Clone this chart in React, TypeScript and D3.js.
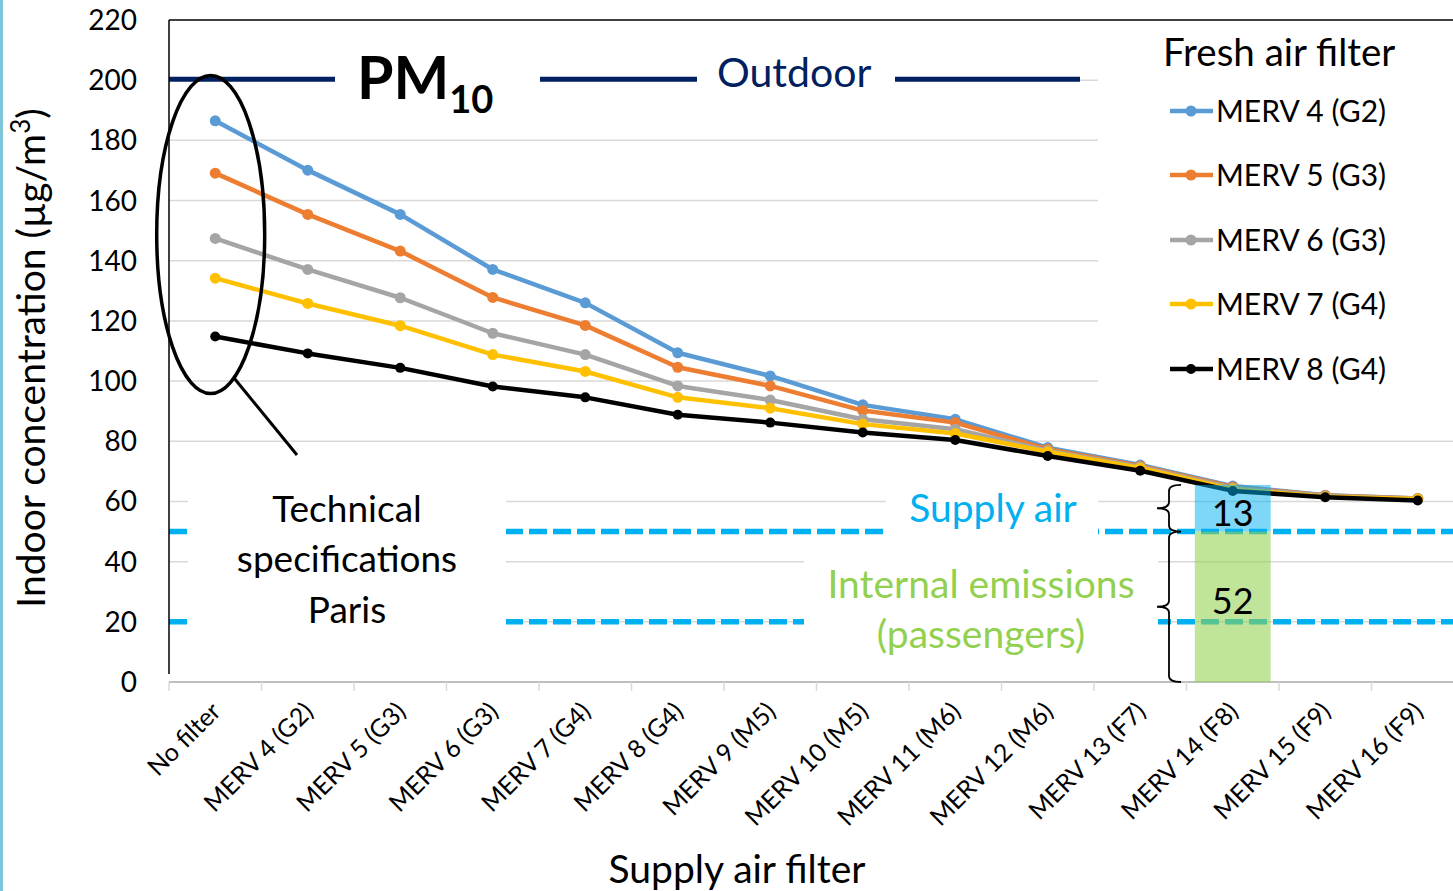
import React from "react";
import * as d3 from "d3";

const categories = [
  "No filter", "MERV 4 (G2)", "MERV 5 (G3)", "MERV 6 (G3)", "MERV 7 (G4)",
  "MERV 8 (G4)", "MERV 9 (M5)", "MERV 10 (M5)", "MERV 11 (M6)", "MERV 12 (M6)",
  "MERV 13 (F7)", "MERV 14 (F8)", "MERV 15 (F9)", "MERV 16 (F9)",
];

const merv4 = [186.5, 170.1, 155.4, 137.1, 126.0, 109.4, 101.7, 92.1, 87.3, 77.9, 72.1, 65.1, 62.1, 61.0];
const merv5 = [169.1, 155.4, 143.2, 127.8, 118.5, 104.6, 98.4, 90.2, 86.2, 77.4, 71.8, 64.8, 62.0, 61.0];
const merv6 = [147.4, 137.1, 127.7, 115.9, 108.8, 98.4, 93.7, 87.3, 84.0, 76.9, 71.5, 64.5, 61.8, 60.9];
const merv7 = [134.2, 125.8, 118.4, 108.8, 103.2, 94.6, 91.0, 85.7, 82.6, 76.5, 71.1, 64.1, 61.6, 60.8];
const merv8 = [114.8, 109.2, 104.4, 98.2, 94.6, 88.8, 86.2, 82.9, 80.4, 75.1, 70.2, 63.5, 61.4, 60.3];

const seriesNames = ["MERV 4 (G2)", "MERV 5 (G3)", "MERV 6 (G3)", "MERV 7 (G4)", "MERV 8 (G4)"];
const seriesColors = ["#5b9bd5", "#ed7d31", "#a5a5a5", "#ffc000", "#000000"];
const seriesValues = [merv4, merv5, merv6, merv7, merv8];

const yTicks = [0, 20, 40, 60, 80, 100, 120, 140, 160, 180, 200, 220];
const outdoorLevel = 200;
const specLevels = [50, 20];
const barCategory = "MERV 14 (F8)";
const barSegments = [
  { from: 0, to: 50, label: "52", color: "#92d050", opacity: 0.58, dy: 7 },
  { from: 50, to: 65.5, label: "13", color: "#00b0f0", opacity: 0.5, dy: 18 },
];

const W = 1453;
const H = 891;
const left = 169;
const top = 20;
const bottom = 682;
const band = 92.5;
const right = left + band * categories.length;

const FONT = "Lato, 'Open Sans', sans-serif";

export default function App() {
  const x = d3.scaleBand<string>().domain(categories).range([left, right]).padding(0);
  const y = d3.scaleLinear().domain([0, 220]).range([bottom, top]);
  const cx = (c: string) => (x(c) as number) + x.bandwidth() / 2;

  const line = d3
    .line<number>()
    .x((_, i) => cx(categories[i]))
    .y((d) => y(d));

  const brace = (xs: number, y0: number, y1: number, w: number) => {
    const ym = (y0 + y1) / 2;
    const r = 6;
    return `M${xs + w},${y0} Q${xs},${y0} ${xs},${y0 + r} L${xs},${ym - r} Q${xs},${ym} ${xs - w},${ym} Q${xs},${ym} ${xs},${ym + r} L${xs},${y1 - r} Q${xs},${y1} ${xs + w},${y1}`;
  };

  const bx = x(barCategory) as number;
  const bw = x.bandwidth() * 0.82;
  const bxl = bx + (x.bandwidth() - bw) / 2;

  const legendYs = [111, 175, 240, 304, 369];

  return (
    <svg
      width={W}
      height={H}
      style={{ position: "absolute", left: 0, top: 0, background: "#fff" }}
      fontFamily={FONT}
    >
      <rect x={0} y={0} width={W} height={H} fill="#fff" />
      <rect x={0} y={0} width={3} height={H} fill="#7ec4da" />

      {/* gridlines */}
      {yTicks.filter((t) => t > 0 && t < 220).map((t) => (
        <line key={t} x1={left} x2={right} y1={y(t)} y2={y(t)} stroke="#d9d9d9" strokeWidth={1.5} />
      ))}

      {/* spec dashed lines */}
      {specLevels.map((s) => (
        <line key={s} x1={left} x2={right} y1={y(s)} y2={y(s)} stroke="#00b0f0" strokeWidth={5.5} strokeDasharray="18 6" />
      ))}

      {/* outdoor */}
      <line x1={left} x2={1080} y1={y(outdoorLevel) - 1} y2={y(outdoorLevel) - 1} stroke="#002060" strokeWidth={5} />

      {/* white text boxes */}
      <rect x={335} y={58} width={205} height={44} fill="#fff" />
      <rect x={697} y={58} width={198} height={44} fill="#fff" />
      <rect x={1098} y={22} width={right - 1098} height={378} fill="#fff" />
      <rect x={188} y={470} width={318} height={185} fill="#fff" />
      <rect x={886} y={488} width={212} height={50} fill="#fff" />
      <rect x={804} y={555} width={354} height={105} fill="#fff" />

      {/* axes */}
      <line x1={left} x2={right} y1={top} y2={top} stroke="#404040" strokeWidth={2} />
      <line x1={left} x2={left} y1={top} y2={bottom - 8} stroke="#000" strokeWidth={1.5} />
      <line x1={left} x2={right} y1={bottom} y2={bottom} stroke="#bfbfbf" strokeWidth={2} />
      {categories.map((c, i) => (
        <line key={c} x1={left + i * band} x2={left + i * band} y1={bottom} y2={bottom + 9} stroke="#d9d9d9" strokeWidth={1.5} />
      ))}
      {yTicks.map((t) => (
        <text key={t} x={137} y={y(t) + 10} textAnchor="end" fontSize={28} fill="#000">
          {t}
        </text>
      ))}
      {categories.map((c) => (
        <text
          key={c}
          transform={`translate(${cx(c) + 7},${bottom + 31}) rotate(-45)`}
          textAnchor="end"
          fontSize={25}
          fill="#000"
        >
          {c}
        </text>
      ))}
      <text transform={`translate(45,358) rotate(-90)`} textAnchor="middle" fontSize={39} fill="#000">
        Indoor concentration (µg/m<tspan dy={-15} fontSize={26}>3</tspan>
        <tspan dy={15}>)</tspan>
      </text>
      <text x={737} y={883} textAnchor="middle" fontSize={39} fill="#000">
        Supply air filter
      </text>

      {/* series */}
      {seriesValues.map((vals, si) => (
        <g key={si}>
          <path d={line(vals) as string} fill="none" stroke={seriesColors[si]} strokeWidth={4.5} strokeLinejoin="round" />
          {vals.map((v, i) => (
            <circle key={i} cx={cx(categories[i])} cy={y(v)} r={si === 4 ? 5 : 5.5} fill={seriesColors[si]} />
          ))}
        </g>
      ))}

      {/* bars */}
      {barSegments.map((b) => (
        <g key={b.label}>
          <rect x={bxl} y={y(b.to)} width={bw} height={y(b.from) - y(b.to)} fill={b.color} fillOpacity={b.opacity} />
          <text x={bx + x.bandwidth() / 2} y={(y(b.from) + y(b.to)) / 2 + b.dy} textAnchor="middle" fontSize={36} fill="#000">
            {b.label}
          </text>
        </g>
      ))}

      {/* braces */}
      {barSegments.map((b) => (
        <path key={b.label} d={brace(1169, y(b.to), y(b.from), 12)} fill="none" stroke="#000" strokeWidth={1.8} />
      ))}

      {/* ellipse annotation */}
      <ellipse cx={210.7} cy={234.5} rx={54} ry={159} fill="none" stroke="#000" strokeWidth={3.5} />
      <line x1={234} x2={297} y1={378} y2={455} stroke="#000" strokeWidth={3} />

      {/* annotations */}
      <text x={357} y={99} fontSize={59} fontWeight="bold" fill="#000">
        PM<tspan dy={14} fontSize={38}>10</tspan>
      </text>
      <text x={717} y={87} fontSize={41} fill="#002060">Outdoor</text>
      <text textAnchor="middle" fontSize={37} fill="#000">
        <tspan x={347} y={522}>Technical</tspan>
        <tspan x={347} y={572}>specifications</tspan>
        <tspan x={347} y={623}>Paris</tspan>
      </text>
      <text x={993} y={522} textAnchor="middle" fontSize={39} fill="#00b0f0">Supply air</text>
      <text textAnchor="middle" fontSize={39} fill="#92d050">
        <tspan x={981} y={598}>Internal emissions</tspan>
        <tspan x={981} y={648}>(passengers)</tspan>
      </text>

      {/* legend */}
      <text x={1163} y={66} fontSize={38.5} fill="#000">Fresh air filter</text>
      {seriesNames.map((n, i) => (
        <g key={n}>
          <line x1={1170} x2={1213} y1={legendYs[i]} y2={legendYs[i]} stroke={seriesColors[i]} strokeWidth={4.5} />
          <circle cx={1191} cy={legendYs[i]} r={i === 4 ? 5 : 5.5} fill={seriesColors[i]} />
          <text x={1216} y={legendYs[i] + 11} fontSize={30} fill="#000">{n}</text>
        </g>
      ))}
    </svg>
  );
}
